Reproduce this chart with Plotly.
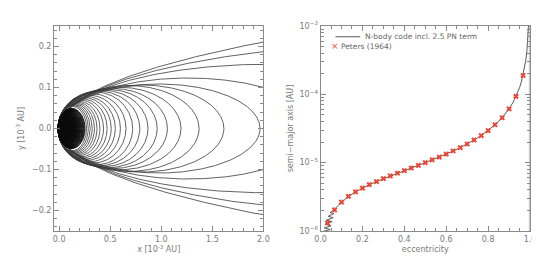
import numpy as np
import plotly.graph_objects as go

# ---------------- data ----------------
# Left panel: outer orbits, apocentre and pericentre distances [1e-3 AU]
outer_apo = [27.0, 7.5, 4.1, 2.53, 1.967, 1.613, 1.37, 1.193, 1.06, 0.96,
             0.87, 0.79, 0.72, 0.655, 0.60, 0.55, 0.51, 0.47, 0.435, 0.40,
             0.371, 0.346, 0.3235, 0.3034, 0.2853, 0.269]
outer_peri = [0.006, 0.006, 0.006, 0.006, 0.006, 0.007, 0.008, 0.0085,
              0.009, 0.0095, 0.010, 0.0105, 0.011, 0.011, 0.011, 0.011,
              0.011, 0.011, 0.011, 0.011, 0.011, 0.011, 0.011, 0.011,
              0.011, 0.011]
# inner (dense, dark) orbits
inner_apo = [0.2542, 0.2475, 0.2407, 0.2345, 0.2284, 0.2227, 0.2171, 0.2119,
             0.2068, 0.202, 0.1973, 0.1929, 0.1885, 0.1844, 0.1803, 0.1765,
             0.1727, 0.1692, 0.1657, 0.1624, 0.1591, 0.156, 0.153, 0.15,
             0.1472, 0.1445, 0.1418, 0.1392, 0.1367, 0.1343, 0.1319, 0.1296,
             0.1274, 0.1253, 0.1232, 0.1212, 0.1192, 0.1173, 0.1154, 0.1136,
             0.1118, 0.110, 0.108, 0.106, 0.104, 0.102, 0.10, 0.098, 0.096,
             0.094, 0.092, 0.09, 0.088, 0.086, 0.084, 0.082, 0.08, 0.078,
             0.076, 0.074, 0.072, 0.07, 0.068, 0.066, 0.064, 0.062, 0.06,
             0.058, 0.056, 0.054, 0.052, 0.05, 0.048, 0.046, 0.044, 0.042,
             0.04, 0.038, 0.036, 0.034, 0.032, 0.03, 0.028, 0.026, 0.024,
             0.022, 0.02, 0.018, 0.016, 0.014, 0.012, 0.0105, 0.0098]
inner_peri = 0.0095

# Right panel: Peters (1964) points
peters_e = [0.033, 0.067, 0.1, 0.133, 0.167, 0.2, 0.233, 0.267, 0.3, 0.333,
            0.367, 0.4, 0.433, 0.467, 0.5, 0.533, 0.567, 0.6, 0.633, 0.667,
            0.7, 0.733, 0.767, 0.8, 0.833, 0.867, 0.9, 0.933, 0.967]
peters_a = [1.31e-6, 2.04e-6, 2.65e-6, 3.21e-6, 3.73e-6, 4.25e-6, 4.77e-6,
            5.29e-6, 5.84e-6, 6.41e-6, 7.01e-6, 7.66e-6, 8.36e-6, 9.14e-6,
            1.00e-5, 1.097e-5, 1.207e-5, 1.335e-5, 1.484e-5, 1.661e-5,
            1.877e-5, 2.146e-5, 2.49e-5, 2.947e-5, 3.586e-5, 4.543e-5,
            6.136e-5, 9.319e-5, 1.887e-4]

# N-body curve (e, a)
nbody_e = [0.9955, 0.9925, 0.99, 0.985, 0.98, 0.97, 0.96, 0.95, 0.933, 0.92,
           0.9, 0.867, 0.833, 0.8, 0.767, 0.733, 0.7, 0.667, 0.633, 0.6,
           0.567, 0.533, 0.5, 0.467, 0.433, 0.4, 0.367, 0.333, 0.3, 0.267,
           0.233, 0.2, 0.167, 0.133, 0.1, 0.085, 0.075,
           0.067, 0.045, 0.064, 0.036, 0.06, 0.028, 0.055, 0.022, 0.05,
           0.018, 0.046, 0.014, 0.06]
nbody_a = [1.4e-3, 8.46e-4, 6.34e-4, 4.22e-4, 3.16e-4, 2.10e-4, 1.568e-4,
           1.25e-4, 9.32e-5, 7.73e-5, 6.14e-5, 4.54e-5, 3.59e-5, 2.95e-5,
           2.49e-5, 2.15e-5, 1.88e-5, 1.66e-5, 1.48e-5, 1.335e-5, 1.207e-5,
           1.097e-5, 1.0e-5, 9.14e-6, 8.36e-6, 7.66e-6, 7.01e-6, 6.41e-6,
           5.84e-6, 5.29e-6, 4.77e-6, 4.25e-6, 3.73e-6, 3.21e-6, 2.65e-6,
           2.38e-6, 2.2e-6,
           2.02e-6, 1.86e-6, 1.80e-6, 1.64e-6, 1.57e-6, 1.44e-6, 1.37e-6,
           1.26e-6, 1.19e-6, 1.11e-6, 1.05e-6, 0.99e-6, 0.88e-6]

legend_labels = ["N-body code incl. 2.5 PN term", "Peters (1964)"]


# ---------------- build orbit curves ----------------
def orbits(apos, peris, n):
    t = np.linspace(0, 2 * np.pi, n)
    xs, ys = [], []
    for Q, q in zip(apos, peris):
        a = (Q + q) / 2.0
        xc = (Q - q) / 2.0
        b = np.sqrt(Q * q)
        xs.extend(list(xc + a * np.cos(t)) + [None])
        ys.extend(list(b * np.sin(t)) + [None])
    return xs, ys


ox, oy = orbits(outer_apo, outer_peri, 1400)
ix, iy = orbits(inner_apo, [inner_peri] * len(inner_apo), 500)

AX = "#8a8a8a"
TXT = "#7a7a7a"
FONT = dict(family="DejaVu Sans", size=8, color=TXT)
RED = "#ee4433"

fig = go.Figure()
fig.add_trace(go.Scatter(x=ox, y=oy, mode="lines", xaxis="x", yaxis="y",
                         line=dict(color="#3a3a3a", width=0.8),
                         showlegend=False, hoverinfo="skip"))
fig.add_trace(go.Scatter(x=ix, y=iy, mode="lines", xaxis="x", yaxis="y",
                         line=dict(color="#0a0a0a", width=0.9),
                         showlegend=False, hoverinfo="skip"))
fig.add_trace(go.Scatter(x=nbody_e, y=nbody_a, mode="lines", xaxis="x2",
                         yaxis="y2", line=dict(color="#5a5a5a", width=1),
                         showlegend=False))
fig.add_trace(go.Scatter(x=peters_e, y=peters_a, mode="markers", xaxis="x2",
                         yaxis="y2",
                         marker=dict(symbol="x", size=5, color=RED,
                                     line=dict(width=0)),
                         showlegend=False))

common = dict(showline=True, linecolor=AX, linewidth=1, mirror="allticks",
              ticks="inside", ticklen=5, tickcolor=AX, showgrid=False,
              zeroline=False, tickfont=FONT)


def px_x(p):
    return (p - 45) / 482.0


def px_y(p):
    return (228.3 - p) / 215.3


shapes = [
    dict(type="line", xref="x2", yref="paper", x0=1, x1=1, y0=0, y1=1,
         line=dict(color="#cfcfcf", width=2.5), layer="below"),
    dict(type="line", xref="paper", yref="paper", x0=px_x(330), x1=px_x(355),
         y0=px_y(24.3), y1=px_y(24.3), line=dict(color="#5a5a5a", width=1)),
]
annotations = [
    dict(text=legend_labels[0], xref="paper", yref="paper", x=px_x(358),
         y=px_y(24.3), xanchor="left", yanchor="middle", showarrow=False,
         font=dict(family="DejaVu Sans", size=7.5, color="#666")),
    dict(text="\u00d7", xref="paper", yref="paper", x=px_x(330),
         y=px_y(34.3), xanchor="center", yanchor="middle", showarrow=False,
         font=dict(family="DejaVu Sans", size=9, color=RED)),
    dict(text=legend_labels[1], xref="paper", yref="paper", x=px_x(333.5),
         y=px_y(34.3), xanchor="left", yanchor="middle", showarrow=False,
         font=dict(family="DejaVu Sans", size=7.5, color="#666")),
]

fig.update_layout(
    width=540, height=256,
    margin=dict(l=45, r=13, t=13, b=28),
    paper_bgcolor="white", plot_bgcolor="white",
    font=FONT, showlegend=False,
    shapes=shapes, annotations=annotations,
    xaxis=dict(domain=[0, 0.44], range=[-0.05, 2.0], anchor="y",
               tickvals=[0, 0.5, 1, 1.5, 2],
               ticktext=["0.0", "0.5", "1.0", "1.5", "2.0"],
               minor=dict(ticks="inside", ticklen=3, dtick=0.1, tick0=0,
                          tickcolor=AX),
               title=dict(text="x [10<sup>-3</sup> AU]", font=FONT,
                          standoff=3),
               **common),
    yaxis=dict(domain=[0, 1], range=[-0.25, 0.25], anchor="x",
               tickvals=[-0.2, -0.1, 0, 0.1, 0.2],
               ticktext=["\u22120.2", "\u22120.1", "0.0", "0.1", "0.2"],
               minor=dict(ticks="inside", ticklen=3, dtick=0.02, tick0=0,
                          tickcolor=AX),
               title=dict(text="y [10<sup>-3</sup> AU]", font=FONT,
                          standoff=6),
               **common),
    xaxis2=dict(domain=[0.56, 1], range=[0, 1], anchor="y2",
                tickvals=[0, 0.2, 0.4, 0.6, 0.8, 1.0],
                ticktext=["0.0", "0.2", "0.4", "0.6", "0.8", "1.0"],
                minor=dict(ticks="inside", ticklen=3, dtick=0.05, tick0=0,
                           tickcolor=AX),
                title=dict(text="eccentricity", font=FONT, standoff=3),
                **common),
    yaxis2=dict(domain=[0, 1], type="log", range=[-6, -3], anchor="x2",
                tickvals=[1e-6, 1e-5, 1e-4, 1e-3],
                ticktext=["10<sup>\u22126</sup>", "10<sup>\u22125</sup>",
                          "10<sup>\u22124</sup>", "10<sup>\u22123</sup>"],
                minor=dict(ticks="inside", ticklen=3, dtick="D1",
                           tickcolor=AX),
                title=dict(text="semi\u2212major axis [AU]", font=FONT,
                           standoff=4),
                **common),
)

fig.write_html("out.html")
